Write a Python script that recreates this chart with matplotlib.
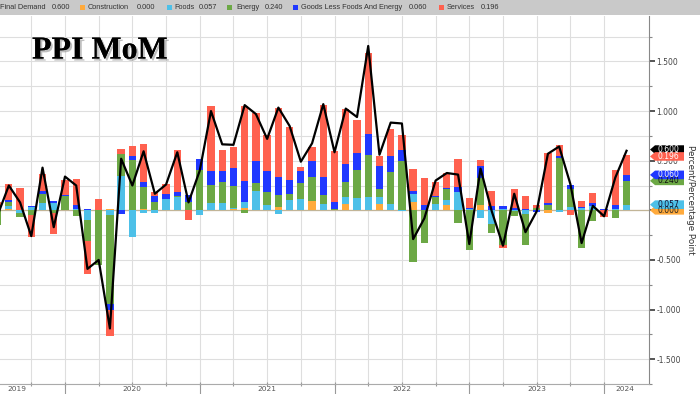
import matplotlib.pyplot as plt
import matplotlib.patheffects as pe
from matplotlib.patches import Polygon, Rectangle
from matplotlib import transforms
from matplotlib.ticker import FormatStrFormatter
import numpy as np
import pandas as pd

# monthly PPI contributions, Jun 2019 .. Feb 2024 (month end)
months = pd.date_range("2019-06-30", "2024-02-29", freq="ME")

construction = [0, 0.013, 0, 0, 0, 0, 0,
                0, 0, 0, 0.015, 0, 0, 0.015, 0, 0, 0, 0, 0,
                0.005, 0, 0.013, 0.02, 0, 0, 0.03, 0, 0, 0.097, 0, 0,
                0.06, 0, 0, 0.06, 0, 0, 0.087, 0, 0, 0.055, 0, 0,
                0.055, 0, 0, 0, 0, 0, -0.026, 0, 0, 0, 0, 0,
                0, 0]
foods = [0, 0.035, -0.03, 0.03, 0.077, 0.077, 0.005,
         0.01, -0.1, 0, -0.05, 0.344, -0.27, -0.025, -0.03, 0.11, 0.13, 0, -0.05,
         0.07, 0.07, 0.013, 0.065, 0.19, 0.05, -0.035, 0.10, 0.11, 0, 0.065, 0,
         0.074, 0.12, 0.13, 0.07, 0.06, -0.01, 0.08, 0, 0.067, 0.05, 0.18, 0.01,
         -0.074, -0.14, 0.016, -0.01, -0.04, 0, 0, -0.015, 0.03, 0.02, 0.045, 0,
         0.013, 0.057]
energy = [-0.15, 0.04, -0.04, -0.05, 0.09, -0.03, 0.135,
          -0.058, -0.21, -0.55, -0.89, 0.22, 0.51, 0.215, 0.087, 0, 0.01, 0.08, 0.41,
          0.177, 0.215, 0.22, -0.025, 0.087, 0.135, 0.12, 0.065, 0.17, 0.24, 0.087, 0.016,
          0.154, 0.29, 0.43, 0.08, 0.33, 0.50, -0.52, -0.33, 0.07, 0.106, -0.13, -0.40,
          0.27, -0.09, -0.35, -0.05, -0.31, 0.02, 0.05, 0.527, 0.18, -0.38, -0.11, 0,
          -0.074, 0.24]
core_goods = [0, 0.02, 0, 0.01, 0.026, 0.02, 0.01,
              0.04, 0.015, 0, -0.06, -0.035, 0.04, 0.055, 0.055, 0.05, 0.04, 0.07, 0.106,
              0.145, 0.11, 0.18, 0.215, 0.225, 0.21, 0.19, 0.14, 0.12, 0.16, 0.18, 0.065,
              0.174, 0.17, 0.21, 0.24, 0.154, 0.11, 0.03, 0.05, 0.01, 0.016, 0.055, 0.016,
              0.12, 0.045, 0.03, 0.02, 0.015, -0.02, 0.02, 0.02, 0.05, 0.013, 0.026, 0.016,
              0.04, 0.06]
services = [0.08, 0.16, 0.22, -0.22, 0.17, -0.21, 0.16,
            0.27, -0.33, 0.11, -0.27, 0.05, 0.10, 0.385, 0.04, 0.11, 0.43, -0.1, 0,
            0.65, 0.21, 0.21, 0.75, 0.48, 0.36, 0.69, 0.53, 0.04, 0.14, 0.73, 0.515,
            0.556, 0.33, 0.82, 0.10, 0.28, 0.145, 0.215, 0.28, 0.14, 0.15, 0.28, 0.10,
            0.06, 0.15, -0.03, 0.19, 0.13, 0.03, 0.51, 0.11, -0.05, 0.06, 0.10, -0.07,
            0.35, 0.196]
final_demand = [-0.05, 0.25, 0.08, -0.26, 0.43, -0.17, 0.34,
                0.25, -0.59, -0.5, -1.19, 0.52, 0.25, 0.595, 0.167, 0.26, 0.585, 0.08, 0.40,
                1.0, 0.665, 0.66, 1.06, 0.97, 0.72, 1.035, 0.85, 0.49, 0.675, 1.07, 0.585,
                1.025, 0.94, 1.656, 0.56, 0.884, 0.875, -0.29, -0.08, 0.30, 0.376, 0.36, -0.34,
                0.42, -0.01, -0.357, 0.167, -0.22, -0.01, 0.57, 0.643, 0.264, -0.33, 0.045, -0.06,
                0.33, 0.60]

series_names = ["Construction", "Foods", "Energy", "Goods Less Foods And Energy", "Services"]
years = ["2019", "2020", "2021", "2022", "2023", "2024"]

colors = ["#FFAA3C", "#4DC0E8", "#6CA845", "#2038FF", "#FF614F"]

x = np.arange(len(months))
W, H = 700, 394

fig = plt.figure(figsize=(7, 3.94), dpi=100)
ax = fig.add_axes([0, 10 / H, 649 / W, 368 / H])

# stacked bars, positives up / negatives down
pos = np.zeros(len(x))
neg = np.zeros(len(x))
for vals, c in zip([construction, foods, energy, core_goods, services], colors):
    v = np.array(vals)
    ax.bar(x, v, width=0.65, bottom=np.where(v >= 0, pos, neg), color=c, linewidth=0, zorder=3)
    pos += np.clip(v, 0, None)
    neg += np.clip(v, None, 0)

ax.plot(x, final_demand, color="black", lw=1.6, zorder=4)
ax.axhline(0, color="#c2b597", lw=0.9, zorder=2)

ax.set_xlim(0.214, 58.0)
ax.set_ylim(-1.591, 1.958)

# grid
ax.set_yticks(np.arange(-1.5, 1.51, 0.5))
ax.set_yticks(np.arange(-1.75, 1.76, 0.25), minor=True)
ax.grid(which="both", axis="y", color="#dedede", lw=0.8, zorder=0)
for q in range(3, 55, 3):
    ax.axvline(q, color="#dedede", lw=0.8, zorder=0)
ax.set_axisbelow(True)

ax.yaxis.tick_right()
ax.yaxis.set_major_formatter(FormatStrFormatter("%.3f"))
ax.tick_params(axis="y", which="major", length=4, width=1.4, color="#555555",
               labelsize=5.5, labelcolor="#444444", pad=1.5)
ax.tick_params(axis="y", which="minor", length=2, width=0.8, color="#888888")
ax.set_xticks(range(3, 55, 3))
ax.tick_params(axis="x", length=3, direction="inout", color="#999999", labelbottom=False)

for s in ["left", "top"]:
    ax.spines[s].set_visible(False)
ax.spines["right"].set_color("#888888")
ax.spines["bottom"].set_color("#aaaaaa")

# year separators and labels below the axis
trans = transforms.blended_transform_factory(ax.transData, ax.transAxes)
for k in [6, 18, 30, 42, 54]:
    ax.plot([k, k], [0, -0.03], transform=trans, clip_on=False, color="#999999", lw=0.8)
year_pos = [1.73, 12, 24, 36, 48, 55.87]
for yr, k in zip(years, year_pos):
    ax.text(k, -0.014, yr, transform=trans, ha="center", va="center",
            fontsize=5.3, color="#555555")

# value tags on the right axis
tagt = transforms.blended_transform_factory(ax.transAxes, ax.transData)
last = [construction[-1], foods[-1], energy[-1], core_goods[-1], services[-1]]
cum = np.cumsum(last)
tags = [(final_demand[-1] + 0.012, final_demand[-1], "black", "white")]
tag_text = ["#222222", "#111133", "#111111", "white", "white"]
nudge = [0, 0, 0, 0, -0.01]
for i in range(5):
    tags.append((cum[i] + nudge[i], last[i], colors[i], tag_text[i]))
h = 9 / 103.7
px = 1 / 649
for yc, val, fc, tc in tags:
    verts = [(1 + 1 * px, yc), (1 + 6 * px, yc + h / 2), (1 + 35 * px, yc + h / 2),
             (1 + 35 * px, yc - h / 2), (1 + 6 * px, yc - h / 2)]
    ax.add_patch(Polygon(verts, closed=True, transform=tagt, facecolor=fc,
                         edgecolor="none", clip_on=False, zorder=6))
    ax.text(1 + 8 * px, yc, "%.3f" % val, transform=tagt, fontsize=5.5, color=tc,
            va="center", ha="left", clip_on=False, zorder=7)

# top legend strip
fig.patches.append(Rectangle((0, 1 - 15 / H), 1, 15 / H, transform=fig.transFigure,
                             facecolor="#c9c9c9", edgecolor="none", zorder=0))
ly = 1 - 7.5 / H
lfont = dict(fontsize=5.3, color="#333333", va="center", ha="left", family="Liberation Sans")
fig.text(0, ly, "Final Demand", **lfont)
fig.text(52 / W, ly, "%.3f" % final_demand[-1], **lfont)
sq_x = [80, 167, 227, 293, 439]
name_x = [88, 174, 236, 301, 447]
val_x = [137, 199, 265, 409, 481]
for i in range(5):
    fig.patches.append(Rectangle((sq_x[i] / W, 1 - 10 / H), 5 / W, 5 / H,
                                 transform=fig.transFigure, facecolor=colors[i],
                                 edgecolor="none"))
    fig.text(name_x[i] / W, ly, series_names[i], **lfont)
    fig.text(val_x[i] / W, ly, "%.3f" % last[i], **lfont)

# title
fig.text(32 / W, 1 - 51 / H, "PPI MoM", fontsize=23, fontweight="bold",
         family="Liberation Serif", va="center", ha="left",
         path_effects=[pe.withSimplePatchShadow(offset=(1.5, -1.5), shadow_rgbFace="gray", alpha=0.5),
                       pe.Normal()])

fig.text(690 / W, 1 - 200 / H, "Percent/Percentage Point", rotation=270, fontsize=6.3,
         va="center", ha="center", color="#333333")

plt.savefig("out.png", dpi=100)
